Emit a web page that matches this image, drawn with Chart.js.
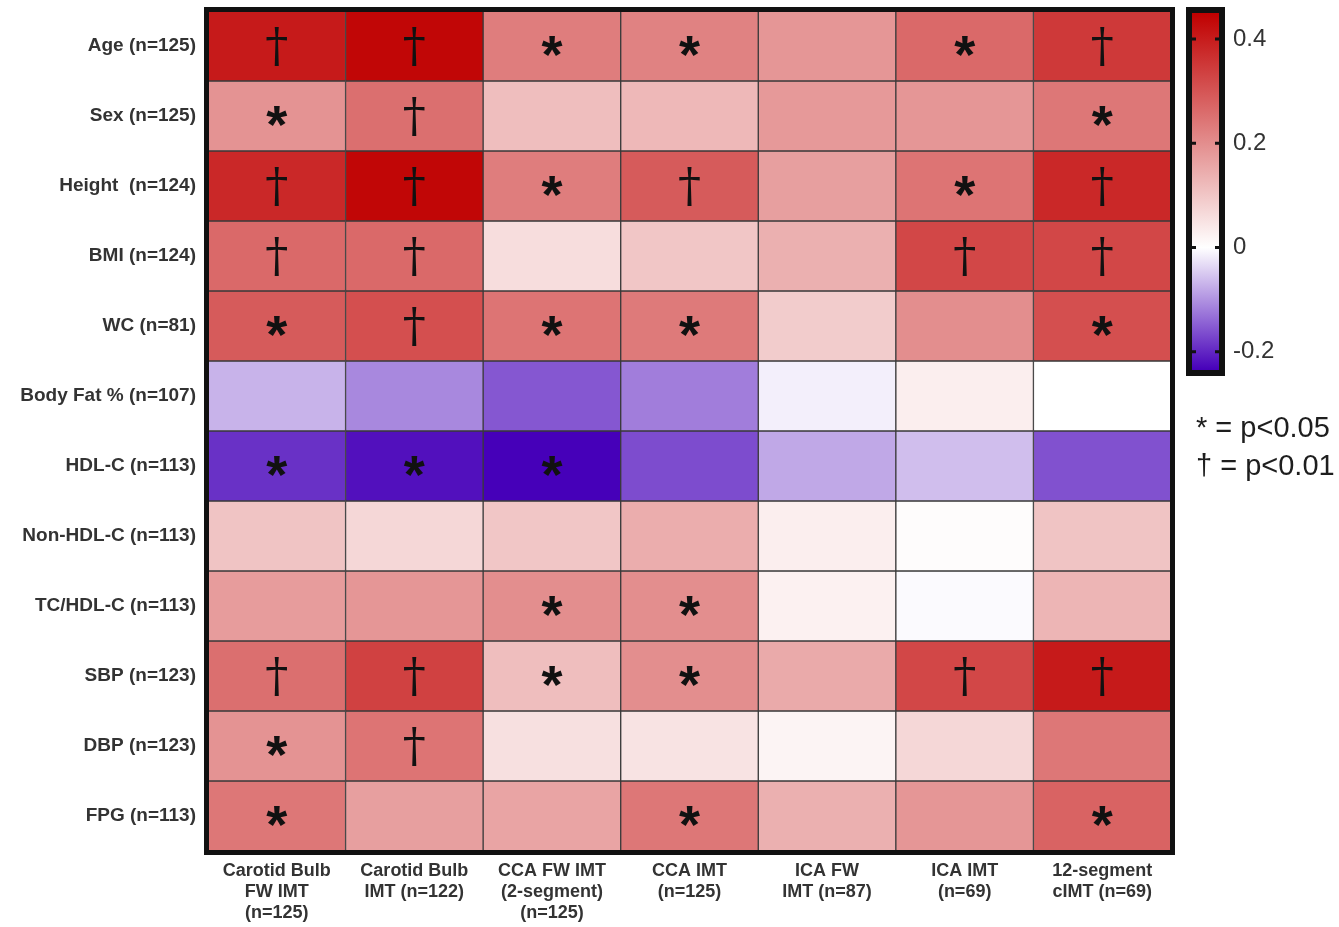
<!DOCTYPE html>
<html>
<head>
<meta charset="utf-8">
<script src="https://cdn.jsdelivr.net/npm/chart.js@4.4.0/dist/chart.umd.min.js"></script>
<style>
  html, body { margin: 0; padding: 0; background: #fff; }
  body { width: 1339px; height: 927px; position: relative; overflow: hidden; font-family: 'Liberation Sans', Arial, sans-serif; }
  #heat { position: absolute; left: 0; top: 0; }
  #scaleBar { position: absolute; left: 1160px; top: 0; }
  .key { position: absolute; left: 1196px; font-size: 29px; color: #1e1e1e; line-height: 34px; white-space: nowrap; }
</style>
</head>
<body>
<canvas id="heat" width="1180" height="927"></canvas>
<canvas id="scaleBar" width="179" height="400"></canvas>
<div class="key" style="top:410px">* = p&lt;0.05</div>
<div class="key" style="top:448px">† = p&lt;0.01</div>
<script>
// Risk factors (rows) and carotid IMT measures (columns)
const rowLabels = ['Age (n=125)', 'Sex (n=125)', 'Height  (n=124)', 'BMI (n=124)', 'WC (n=81)',
  'Body Fat % (n=107)', 'HDL-C (n=113)', 'Non-HDL-C (n=113)', 'TC/HDL-C (n=113)',
  'SBP (n=123)', 'DBP (n=123)', 'FPG (n=113)'];
const colLabels = [
  ['Carotid Bulb', 'FW IMT', '(n=125)'],
  ['Carotid Bulb', 'IMT (n=122)'],
  ['CCA FW IMT', '(2-segment)', '(n=125)'],
  ['CCA IMT', '(n=125)'],
  ['ICA FW', 'IMT (n=87)'],
  ['ICA IMT', '(n=69)'],
  ['12-segment', 'cIMT (n=69)']
];

// Correlation coefficients, one array per risk factor
const ageR      = [0.405, 0.44, 0.23, 0.22, 0.185, 0.265, 0.35];
const sexR      = [0.19, 0.255, 0.115, 0.125, 0.18, 0.185, 0.24];
const heightR   = [0.38, 0.44, 0.23, 0.29, 0.17, 0.245, 0.38];
const bmiR      = [0.265, 0.265, 0.06, 0.10, 0.14, 0.325, 0.325];
const wcR       = [0.29, 0.31, 0.245, 0.235, 0.09, 0.20, 0.31];
const bodyFatR  = [-0.07, -0.11, -0.155, -0.12, -0.015, 0.03, 0.0];
const hdlR      = [-0.19, -0.22, -0.235, -0.165, -0.08, -0.06, -0.16];
const nonHdlR   = [0.105, 0.07, 0.10, 0.145, 0.03, 0.005, 0.105];
const tcHdlR    = [0.175, 0.185, 0.20, 0.20, 0.025, -0.005, 0.13];
const sbpR      = [0.255, 0.335, 0.115, 0.20, 0.15, 0.325, 0.405];
const dbpR      = [0.19, 0.245, 0.055, 0.05, 0.02, 0.07, 0.24];
const fpgR      = [0.24, 0.17, 0.16, 0.24, 0.14, 0.185, 0.275];

// Significance marks: '*' p<0.05, '†' p<0.01
const ageSig     = ['†', '†', '*', '*', '', '*', '†'];
const sexSig     = ['*', '†', '', '', '', '', '*'];
const heightSig  = ['†', '†', '*', '†', '', '*', '†'];
const bmiSig     = ['†', '†', '', '', '', '†', '†'];
const wcSig      = ['*', '†', '*', '*', '', '', '*'];
const bodyFatSig = ['', '', '', '', '', '', ''];
const hdlSig     = ['*', '*', '*', '', '', '', ''];
const nonHdlSig  = ['', '', '', '', '', '', ''];
const tcHdlSig   = ['', '', '*', '*', '', '', ''];
const sbpSig     = ['†', '†', '*', '*', '', '†', '†'];
const dbpSig     = ['*', '†', '', '', '', '', ''];
const fpgSig     = ['*', '', '', '*', '', '', '*'];

// Colour bar range and its tick labels
const cbMin = -0.235;
const cbMax = 0.45;
const cbTicks = [-0.2, 0, 0.2, 0.4];

const corr = [ageR, sexR, heightR, bmiR, wcR, bodyFatR, hdlR, nonHdlR, tcHdlR, sbpR, dbpR, fpgR];
const sig = [ageSig, sexSig, heightSig, bmiSig, wcSig, bodyFatSig, hdlSig, nonHdlSig, tcHdlSig, sbpSig, dbpSig, fpgSig];

const HOT = [192, 0, 0];
const COLD = [70, 0, 185];
function colorFor(v) {
  const end = v >= 0 ? HOT : COLD;
  const t = Math.max(0, Math.min(1, v >= 0 ? v / cbMax : v / cbMin));
  const ch = end.map(e => Math.round(255 + (e - 255) * t));
  return `rgb(${ch[0]},${ch[1]},${ch[2]})`;
}

const FONT = "'Liberation Sans', Arial, sans-serif";
const INK = '#333';

// keep tick labels from pushing the plot area around
function noOverflow(s) {
  s.paddingTop = 0; s.paddingBottom = 0; s.paddingLeft = 0; s.paddingRight = 0;
}

// Significance symbols and the heavy outer frame
const cellMarks = {
  id: 'cellMarks',
  afterDatasetsDraw(chart) {
    const { ctx, chartArea: a, scales } = chart;
    ctx.save();
    ctx.fillStyle = '#111';
    ctx.textAlign = 'center';
    ctx.textBaseline = 'alphabetic';
    sig.forEach((row, r) => row.forEach((m, c) => {
      if (!m) return;
      const x = scales.x.getPixelForValue(c);
      const y = scales.rows.getPixelForValue(r + 0.5);
      ctx.font = m === '†' ? "46px 'DejaVu Serif', serif" : "bold 54px 'Liberation Sans', Arial, sans-serif";
      const mt = ctx.measureText(m);
      ctx.fillText(m, x, y + (mt.actualBoundingBoxAscent - mt.actualBoundingBoxDescent) / 2);
    }));
    ctx.lineWidth = 5;
    ctx.strokeStyle = '#111';
    ctx.strokeRect(a.left - 1.5, a.top - 1.5, a.width + 3, a.height + 3);
    ctx.restore();
  }
};

const datasets = corr.map((row, r) => ({
  // each row occupies the band [r, r+1] on the row scale
  data: row.map(() => [r, r + 1]),
  backgroundColor: row.map(colorFor),
  borderColor: '#3a3a3a',
  borderWidth: 1,
  borderSkipped: false,
  grouped: false,
  barPercentage: 1,
  categoryPercentage: 1,
  yAxisID: 'rows'
}));

new Chart(document.getElementById('heat'), {
  type: 'bar',
  data: { labels: colLabels, datasets },
  options: {
    responsive: false,
    devicePixelRatio: 1,
    animation: false,
    events: [],
    layout: { padding: { top: 11, right: 9, left: 0, bottom: 0 } },
    plugins: { legend: { display: false }, tooltip: { enabled: false } },
    scales: {
      x: {
        type: 'category',
        offset: true,
        grid: { display: false, drawTicks: false },
        border: { display: false },
        ticks: { color: INK, font: { family: FONT, size: 18, weight: 'bold', lineHeight: 1.16 }, padding: 10, maxRotation: 0, autoSkip: false },
        afterFit(s) { s.height = 76; noOverflow(s); }
      },
      names: {
        type: 'category',
        labels: rowLabels,
        position: 'left',
        offset: true,
        grid: { display: false, drawTicks: false },
        border: { display: false },
        ticks: { color: INK, font: { family: FONT, size: 19, weight: 'bold' }, padding: 12, autoSkip: false },
        afterFit(s) { s.width = 208; noOverflow(s); }
      },
      rows: {
        type: 'linear',
        position: 'right',
        min: 0,
        max: 12,
        reverse: true,
        grid: { display: false, drawTicks: false },
        border: { display: false },
        ticks: { display: false },
        afterFit(s) { s.width = 0; noOverflow(s); }
      }
    }
  },
  plugins: [cellMarks]
});

// Colour bar: one floating bar spanning the full range, filled with the colour map
const barFrame = {
  id: 'barFrame',
  afterDatasetsDraw(chart) {
    const { ctx, chartArea: a, scales } = chart;
    ctx.save();
    ctx.strokeStyle = '#111';
    ctx.lineWidth = 3;
    cbTicks.forEach(v => {
      const y = scales.y.getPixelForValue(v);
      ctx.beginPath();
      ctx.moveTo(a.left, y); ctx.lineTo(a.left + 4, y);
      ctx.moveTo(a.right - 4, y); ctx.lineTo(a.right, y);
      ctx.stroke();
    });
    ctx.lineWidth = 6;
    ctx.strokeRect(a.left - 3, a.top - 3, a.width + 6, a.height + 6);
    ctx.restore();
  }
};

new Chart(document.getElementById('scaleBar'), {
  type: 'bar',
  data: {
    labels: [''],
    datasets: [{
      data: [[cbMin, cbMax]],
      backgroundColor(c) {
        const chart = c.chart;
        if (!chart.chartArea) return '#fff';
        const y = chart.scales.y;
        const g = chart.ctx.createLinearGradient(0, y.getPixelForValue(cbMin), 0, y.getPixelForValue(cbMax));
        [cbMin, 0, cbMax].forEach(v => g.addColorStop((v - cbMin) / (cbMax - cbMin), colorFor(v)));
        return g;
      },
      borderWidth: 0,
      barPercentage: 1,
      categoryPercentage: 1
    }]
  },
  options: {
    responsive: false,
    devicePixelRatio: 1,
    animation: false,
    events: [],
    layout: { padding: { left: 32, top: 13, bottom: 30, right: 0 } },
    plugins: { legend: { display: false }, tooltip: { enabled: false } },
    scales: {
      x: { display: false },
      y: {
        position: 'right',
        min: cbMin,
        max: cbMax,
        grid: { display: false, drawTicks: false },
        border: { display: false },
        afterBuildTicks(s) { s.ticks = cbTicks.map(v => ({ value: v })); },
        ticks: { color: INK, font: { family: FONT, size: 24 }, padding: 14, callback: v => String(v) },
        afterFit(s) { s.width = 120; noOverflow(s); }
      }
    }
  },
  plugins: [barFrame]
});
</script>
</body>
</html>
